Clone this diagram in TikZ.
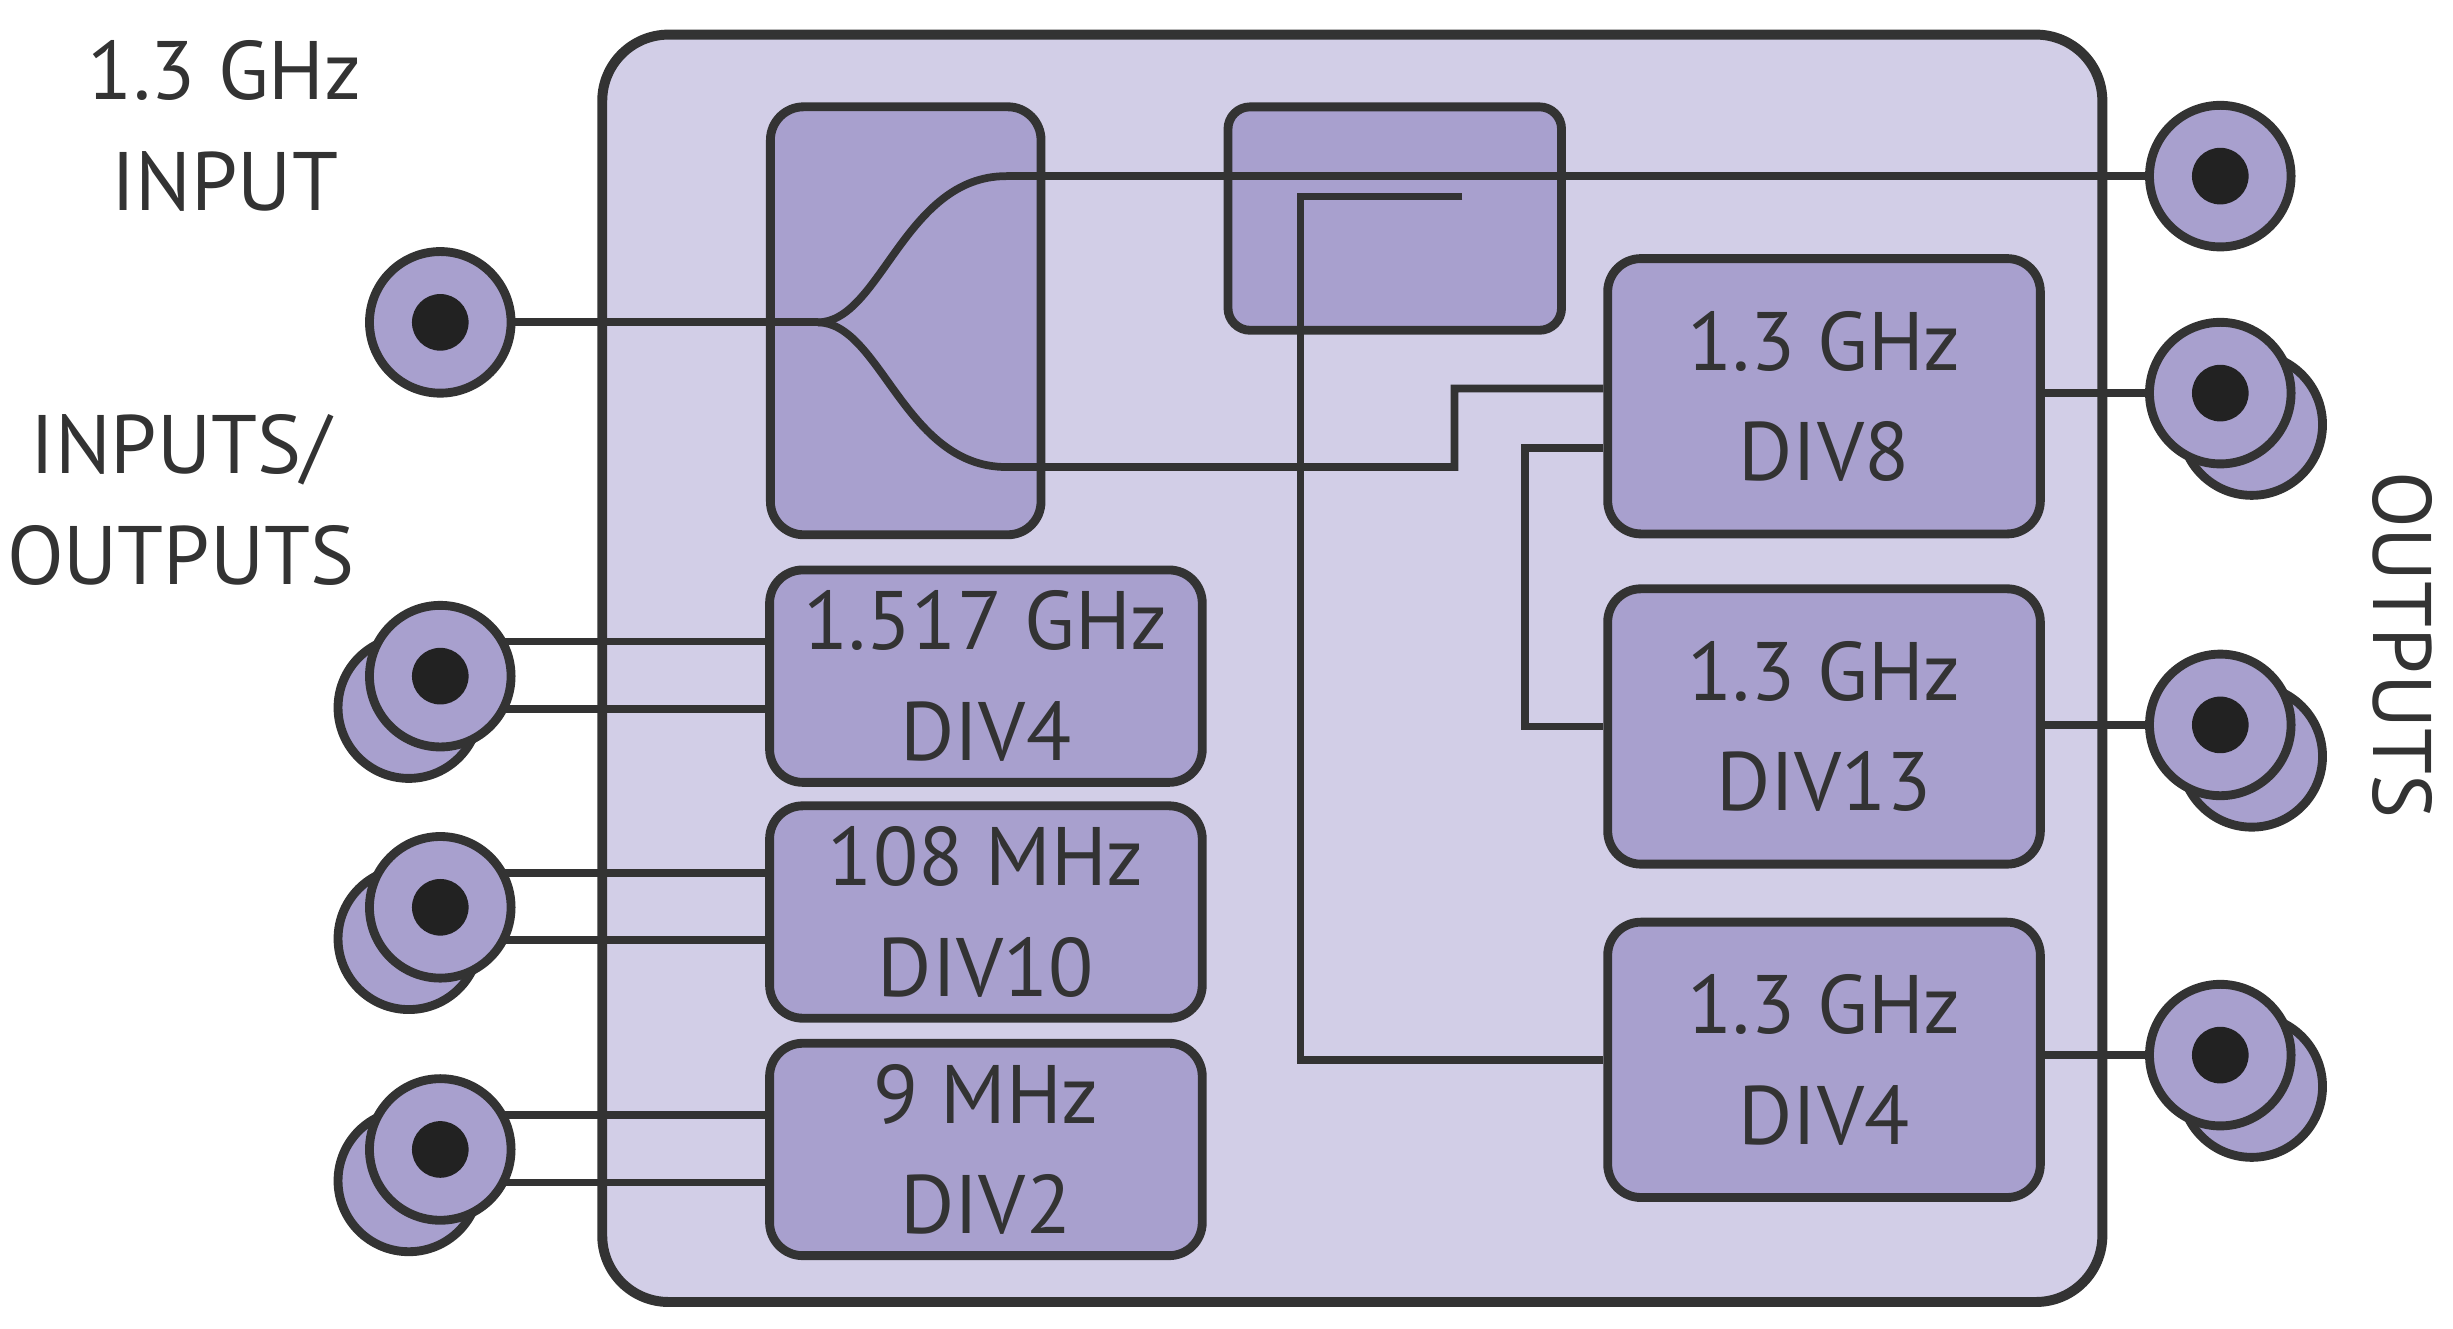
\documentclass[tikz,border=0pt]{standalone}
\usepackage{fontspec}
\setmainfont{PT Sans}
\definecolor{dhLine}{HTML}{333333}
\definecolor{dhBack}{HTML}{D2CEE7}
\definecolor{dhBox}{HTML}{A8A0CE}
\definecolor{dhDot}{HTML}{222222}
\usetikzlibrary{positioning}
\tikzset{
  wire/.style={draw=dhLine, line width=1.4pt},
  block/.style={draw=dhLine, fill=dhBox, line width=1.6pt, rounded corners=6pt,
    align=center, font=\fontsize{15}{20}\selectfont, text=dhLine},
  jack/.style={circle, draw=dhLine, fill=dhBox, line width=1.6pt, minimum size=0.9cm, inner sep=0pt},
  pin/.style={circle, fill=dhDot, minimum size=0.36cm, inner sep=0pt},
  label/.style={align=center, font=\fontsize{15}{20}\selectfont, text=dhLine},
}
\begin{document}
\begin{tikzpicture}[x=0.01cm, y=-0.01cm]
    \useasboundingbox (0,0) rectangle (1560,845);

    % --- Main housing ---
    \draw[fill=dhBack, draw=dhLine, line width=1.8pt, rounded corners=12pt] (383,22) rectangle (1337,828);

    % --- Blocks ---
    \node[block, minimum width=1.72cm, minimum height=2.72cm] (split) at (576,204) {};
    \node[block, minimum width=2.12cm, minimum height=1.42cm, rounded corners=4pt] (coupler) at (887,139) {};
    \node[block, minimum width=2.75cm, minimum height=1.75cm] (div8) at (1160,252) {1.3 GHz\\DIV8};
    \node[block, minimum width=2.75cm, minimum height=1.75cm] (div13) at (1160,462) {1.3 GHz\\DIV13};
    \node[block, minimum width=2.75cm, minimum height=1.75cm] (div4r) at (1160,674) {1.3 GHz\\DIV4};
    \node[block, minimum width=2.75cm, minimum height=1.35cm] (div4l) at (627,430) {1.517 GHz\\DIV4};
    \node[block, minimum width=2.75cm, minimum height=1.35cm] (div10) at (627,580) {108 MHz\\DIV10};
    \node[block, minimum width=2.75cm, minimum height=1.35cm] (div2) at (627,731) {9 MHz\\DIV2};

    % --- Splitter and coupler paths ---
    \coordinate (fork) at (520,205);
    \coordinate (up) at (640,112);
    \coordinate (down) at (640,297);
    \coordinate (tap) at (930,125);
    \draw[wire] (280,205) -- (fork);
    \draw[wire] (fork) .. controls (560,205) and (575,112) .. (up) -- (1412,112);
    \draw[wire] (fork) .. controls (560,205) and (575,297) .. (down) -- (925,297) |- (div8.west |- 0,247);
    \draw[wire] (tap) -- (827,125) |- (div4r.west);
    \draw[wire] (div8.west |- 0,285) -- (970,285) |- (div13.west);

    % --- Right outputs ---
    \foreach \blk/\y in {div8/250, div13/461, div4r/671} {
        \draw[wire] (\blk.east |- 0,\y) -- (1412,\y);
        \node[jack] at (1432,\y+20) {};
        \node[jack] (out-\blk) at (1412,\y) {};
        \node[pin] at (out-\blk) {};
    }
    \node[jack] (outtop) at (1412,112) {};
    \node[pin] at (outtop) {};

    % --- Left inputs/outputs ---
    \foreach \blk/\y in {div4l/430, div10/577, div2/731} {
        \draw[wire] (300,\y-22) -- (\blk.west |- 0,\y-22);
        \draw[wire] (300,\y+21) -- (\blk.west |- 0,\y+21);
        \node[jack] at (260,\y+20) {};
        \node[jack] (in-\blk) at (280,\y) {};
        \node[pin] at (in-\blk) {};
    }
    \node[jack] (input) at (280,205) {};
    \node[pin] at (input) {};

    % --- Labels ---
    \node[label] (lblin) at (143,80) {1.3 GHz\\INPUT};
    \node[label] (lblio) at (115,318) {INPUTS/\\OUTPUTS};
    \node[label, rotate=-90] (lblout) at (1528,410) {OUTPUTS};
\end{tikzpicture}
\end{document}
